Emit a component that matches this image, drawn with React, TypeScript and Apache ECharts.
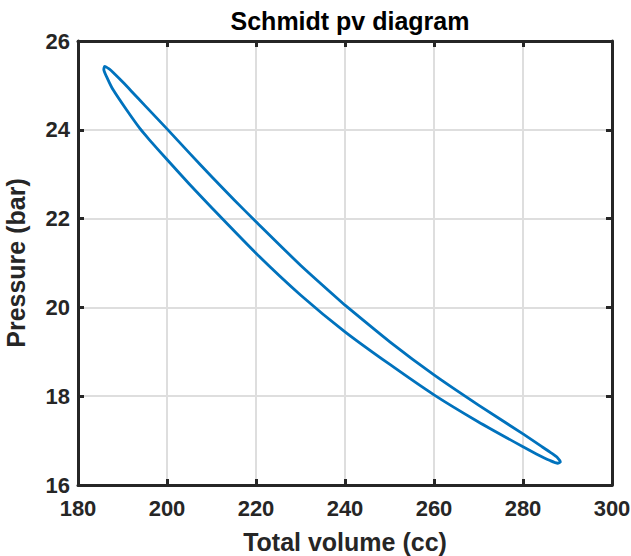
import React, { useEffect, useRef } from "react";
import * as echarts from "echarts";

// Upper branch (higher pressure), left tip -> right tip
const upperVolume = [186.0, 187.0, 187.9, 190, 192, 195, 200, 205, 210, 215, 220, 230, 240, 250, 260, 270, 280, 284, 286.5, 287.8, 288.4];
const upperPressure = [25.43, 25.37, 25.29, 25.08, 24.87, 24.55, 24.02, 23.48, 22.95, 22.43, 21.93, 20.95, 20.05, 19.23, 18.48, 17.8, 17.15, 16.88, 16.71, 16.61, 16.52];
// Lower branch (lower pressure), right tip -> left tip
const lowerVolume = [287.8, 286.1, 283, 280, 270, 260, 250, 240, 230, 220, 210, 205, 200, 196, 193.9, 190.9, 187.9, 186.6, 185.8];
const lowerPressure = [16.49, 16.55, 16.7, 16.86, 17.42, 18.03, 18.72, 19.45, 20.28, 21.22, 22.25, 22.78, 23.33, 23.78, 24.03, 24.45, 24.9, 25.16, 25.36];

const xTicks = [180, 200, 220, 240, 260, 280, 300];
const yTicks = [16, 18, 20, 22, 24, 26];

const FONT = '"Liberation Sans", Arial, Helvetica, sans-serif';
const AXIS_COLOR = "#262626";

export default function App() {
  const ref = useRef<HTMLDivElement>(null);
  useEffect(() => {
    document.body.style.margin = "0";
    if (!ref.current) return;
    const chart = echarts.init(ref.current, undefined, { renderer: "svg" });
    // Closed loop starting mid-way along the upper branch so both tips are interior points
    const upper: number[][] = upperVolume.map((v, i) => [v, upperPressure[i]]);
    const lower: number[][] = lowerVolume.map((v, i) => [v, lowerPressure[i]]);
    const start = upperVolume.indexOf(240);
    const data: number[][] = [
      ...upper.slice(start),
      ...lower,
      ...upper.slice(0, start + 1),
    ];

    const xMin = xTicks[0];
    const xMax = xTicks[xTicks.length - 1];
    const xInt = xTicks[1] - xTicks[0];
    const yMin = yTicks[0];
    const yMax = yTicks[yTicks.length - 1];
    const yInt = yTicks[1] - yTicks[0];

    const tickLabel = { fontFamily: FONT, fontWeight: "bold", fontSize: 22, color: AXIS_COLOR };

    chart.setOption({
      animation: false,
      backgroundColor: "#ffffff",
      title: {
        text: "Schmidt pv diagram",
        left: 345,
        textAlign: "center",
        top: 3,
        textStyle: { fontFamily: FONT, fontWeight: "bold", fontSize: 25, color: "#000000" },
      },
      grid: { left: 78, right: 19, top: 41, bottom: 71, containLabel: false, outerBoundsMode: "none" },
      xAxis: [
        {
          type: "value",
          min: xMin,
          max: xMax,
          interval: xInt,
          position: "bottom",
          name: "Total volume (cc)",
          nameLocation: "middle",
          nameGap: 44,
          nameTextStyle: { fontFamily: FONT, fontWeight: "bold", fontSize: 25, color: AXIS_COLOR },
          axisLine: { show: true, lineStyle: { color: AXIS_COLOR, width: 3 } },
          axisTick: { show: true, inside: true, length: 6, lineStyle: { color: AXIS_COLOR, width: 3 } },
          axisLabel: { ...tickLabel, margin: 12 },
          splitLine: { show: true, lineStyle: { color: "#dedede", width: 2 } },
        },
        {
          type: "value",
          min: xMin,
          max: xMax,
          interval: xInt,
          position: "top",
          axisLine: { show: true, lineStyle: { color: AXIS_COLOR, width: 3 } },
          axisTick: { show: true, inside: true, length: 6, lineStyle: { color: AXIS_COLOR, width: 3 } },
          axisLabel: { show: false },
          splitLine: { show: false },
        },
      ],
      yAxis: [
        {
          type: "value",
          min: yMin,
          max: yMax,
          interval: yInt,
          position: "left",
          name: "Pressure (bar)",
          nameLocation: "middle",
          nameGap: 50,
          nameTextStyle: { fontFamily: FONT, fontWeight: "bold", fontSize: 25, color: AXIS_COLOR },
          axisLine: { show: true, lineStyle: { color: AXIS_COLOR, width: 3 } },
          axisTick: { show: true, inside: true, length: 6, lineStyle: { color: AXIS_COLOR, width: 3 } },
          axisLabel: { ...tickLabel, margin: 8 },
          splitLine: { show: true, lineStyle: { color: "#dedede", width: 2 } },
        },
        {
          type: "value",
          min: yMin,
          max: yMax,
          interval: yInt,
          position: "right",
          axisLine: { show: true, lineStyle: { color: AXIS_COLOR, width: 3 } },
          axisTick: { show: true, inside: true, length: 6, lineStyle: { color: AXIS_COLOR, width: 3 } },
          axisLabel: { show: false },
          splitLine: { show: false },
        },
      ],
      series: [
        {
          type: "line",
          xAxisIndex: 0,
          yAxisIndex: 0,
          data,
          showSymbol: false,
          smooth: 0.2,
          lineStyle: { color: "#0072BD", width: 2.8, join: "round", cap: "round" },
        },
      ],
    });
    return () => chart.dispose();
  }, []);
  return <div ref={ref} style={{ position: "fixed", left: 0, top: 0, width: 631, height: 556 }} />;
}
